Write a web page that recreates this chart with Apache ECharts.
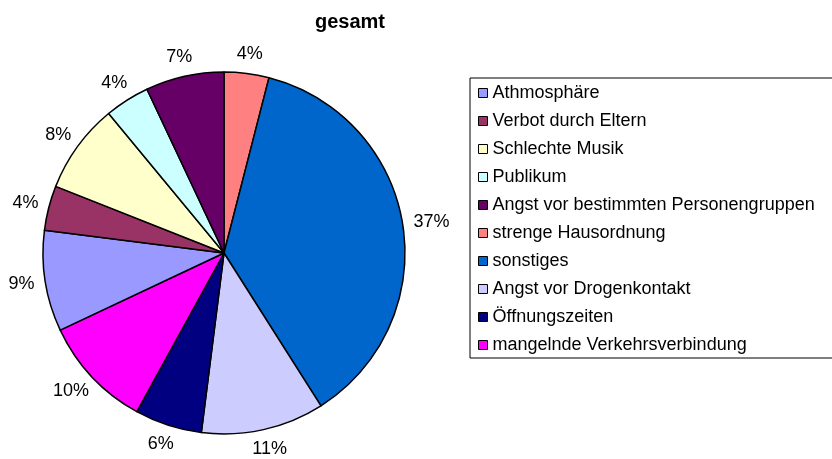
<!DOCTYPE html>
<html>
<head>
<meta charset="utf-8">
<script src="https://cdn.jsdelivr.net/npm/echarts@6/dist/echarts.min.js"></script>
<style>
html,body{margin:0;padding:0;background:#fff;}
#chart{width:832px;height:459px;}
</style>
</head>
<body>
<div id="chart"></div>
<script>
// Slices in drawing order (clockwise from 12 o'clock)
var categories = ["strenge Hausordnung", "sonstiges", "Angst vor Drogenkontakt", "Öffnungszeiten", "mangelnde Verkehrsverbindung", "Athmosphäre", "Verbot durch Eltern", "Schlechte Musik", "Publikum", "Angst vor bestimmten Personengruppen"];
var values = [4, 37, 11, 6, 10, 9, 4, 8, 4, 7];
var colors = ["#FF8080", "#0066CC", "#CCCCFF", "#000080", "#FF00FF", "#9999FF", "#993366", "#FFFFCC", "#CCFFFF", "#660066"];
// Legend order as shown in the reference
var legendOrder = ["Athmosphäre", "Verbot durch Eltern", "Schlechte Musik", "Publikum", "Angst vor bestimmten Personengruppen", "strenge Hausordnung", "sonstiges", "Angst vor Drogenkontakt", "Öffnungszeiten", "mangelnde Verkehrsverbindung"];
var titleText = "gesamt";

var chart = echarts.init(document.getElementById('chart'), null, {renderer: 'canvas'});
var data = categories.map(function (c, i) {
  return {name: c, value: values[i], itemStyle: {color: colors[i]}};
});
var font = 'Liberation Sans, Arial, sans-serif';
var pieCenter = [224, 253];

// Excel-style label placement: the label box touches the anchor point
// (at the end of the hidden label line) on the side facing the pie.
function excelLabelLayout(p) {
  var r = p.labelRect;
  var ax = p.align === 'left' ? r.x : (p.align === 'right' ? r.x + r.width : r.x + r.width / 2);
  var ay = r.y + r.height / 2;
  var vx = ax - pieCenter[0], vy = ay - pieCenter[1];
  var len = Math.sqrt(vx * vx + vy * vy) || 1;
  var ux = vx / len, uy = vy / len;
  return {
    x: ax + ux * r.width / 2,
    y: ay + uy * r.height / 2,
    align: 'center',
    verticalAlign: 'middle'
  };
}

chart.setOption({
  animation: false,
  backgroundColor: '#ffffff',
  title: {
    text: titleText,
    left: 345,
    top: 7,
    textAlign: 'center',
    textStyle: {fontFamily: font, fontSize: 20, fontWeight: 'bold', color: '#000'}
  },
  legend: {
    data: legendOrder,
    orient: 'vertical',
    left: 470,
    top: 78,
    padding: [6, 40, 4, 8],
    borderColor: '#000',
    borderWidth: 1,
    icon: 'rect',
    itemWidth: 9,
    itemHeight: 9,
    itemGap: 10,
    itemTextGap: 8,
    itemStyle: {borderColor: '#000', borderWidth: 1},
    textStyle: {fontFamily: font, fontSize: 18, color: '#000', lineHeight: 18}
  },
  series: [{
    type: 'pie',
    center: pieCenter,
    radius: 181,
    startAngle: 90,
    clockwise: true,
    avoidLabelOverlap: false,
    data: data,
    itemStyle: {borderColor: '#000', borderWidth: 1.5},
    label: {
      show: true,
      position: 'outside',
      formatter: function (p) { return p.value + '%'; },
      fontFamily: font,
      fontSize: 18,
      color: '#000',
      distanceToLabelLine: 0
    },
    labelLine: {show: false, length: 11, length2: 0},
    labelLayout: excelLabelLayout,
    emphasis: {disabled: true}
  }]
});
</script>
</body>
</html>
